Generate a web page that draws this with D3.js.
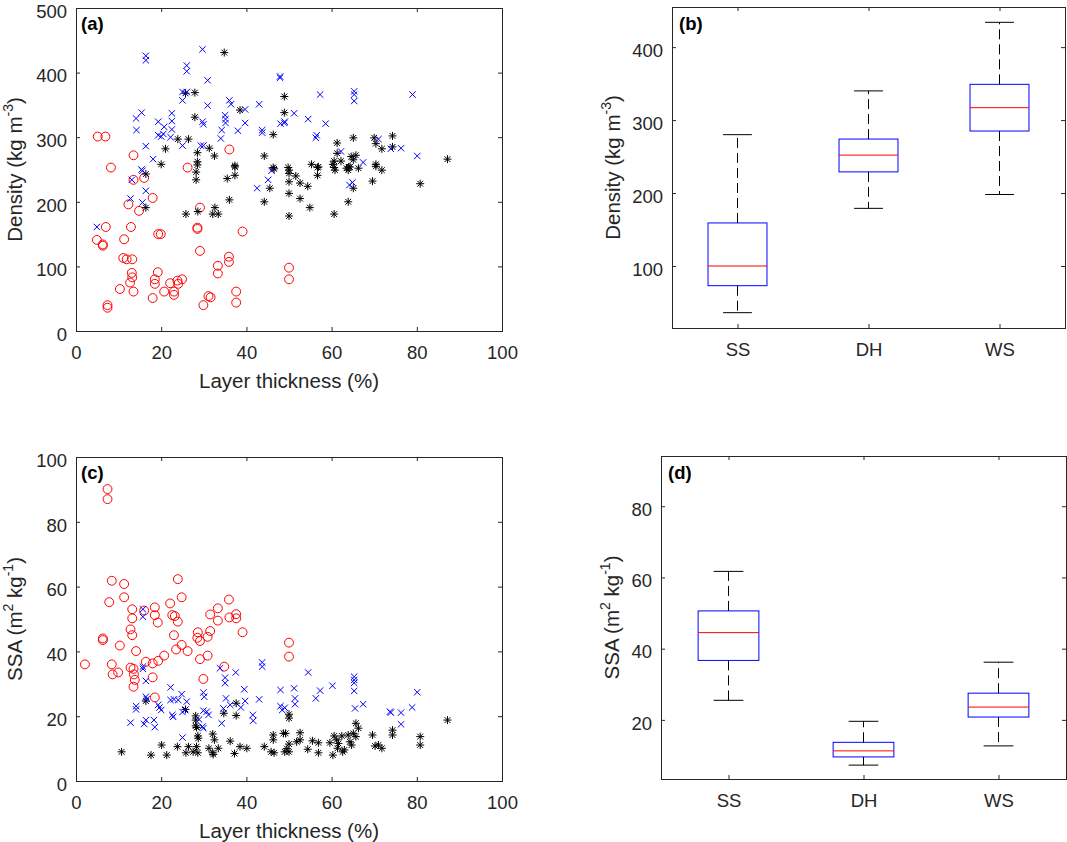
<!DOCTYPE html>
<html>
<head>
<meta charset="utf-8">
<script src="https://d3js.org/d3.v7.min.js"></script>
<style>
  body { margin: 0; background: #fff; }
  svg { font-family: Arial, "Liberation Sans", Helvetica, sans-serif; }
  .tick text { fill: #262626; font-size: 18.5px; }
  .tick line { stroke: #262626; }
  .domain { display: none; }
  .frame { fill: none; stroke: #262626; stroke-width: 1; }
  .axis-label { fill: #262626; font-size: 20.5px; }
  .panel-label { fill: #000; font-size: 18.5px; font-weight: bold; }
</style>
</head>
<body>
<div id="chart"></div>
<script>
// Layer thickness (%) vs density / SSA, per snow type
// SS = red circles, DH = black asterisks, WS = blue crosses

const densitySS = [
  [5.1,301],[6.9,301],[13.5,272],[36,281],[8.2,253],[26.2,253],[13.5,234],[16,237],[18,206],[12.3,196],
  [14.8,186],[7,161],[12.9,161],[4.9,141],[6.3,134],[6.3,132],[11.3,142],[19.3,150],[19.9,150],[28.5,160],
  [28.5,158],[29.1,191],[39.1,154],[29.1,124],[11.1,113],[11.9,111],[13.2,111],[35.9,115],[35.9,107],[33.3,101],
  [33.3,89],[13.1,90],[13.2,83],[12.7,75],[10.3,65],[13.5,61],[19.2,91],[18.5,80],[18.5,73],[18,51],
  [20.7,61],[22.1,74],[23,61],[23,56],[23.8,78],[24,73],[24.9,80],[31.1,54],[31.6,52],[29.9,40],
  [37.6,61],[37.6,44],[7.4,40],[7.4,36],[50,98],[50,80]
];
const densityDH = [
  [34.8,431],[25.7,368],[27.9,369],[48.9,363],[48.9,338],[38.5,342],[27.9,331],[23.9,297],[26.4,297],[46.3,304],
  [21,282],[28.5,276],[28.5,262],[28.5,257],[31.3,283],[32.5,271],[44.2,271],[20,258],[37.3,256],[46.3,253],
  [49.8,253],[61.3,291],[65.1,299],[70,299],[70.4,290],[71.8,282],[74.3,302],[74.3,285],[87.2,266],[61.3,275],
  [60.6,263],[62.2,263],[64.6,270],[65.7,272],[65.1,265],[55.3,258],[56.9,254],[60.3,258],[60.6,253],[64,254],
  [70.4,258],[50,249],[50,244],[50,231],[50,213],[50,178],[51.6,240],[52.6,229],[54.4,224],[52.6,205],
  [54.9,191],[56.7,253],[56.7,241],[60.8,249],[60.6,181],[63.5,252],[63.9,249],[64.3,254],[66.3,252],[65.1,221],
  [63.9,200],[69.6,232],[71.8,249],[70.4,255],[80.8,228],[16.4,243],[16.4,191],[25.8,181],[28.6,185],[32.1,181],
  [33.4,181],[32.6,191],[36,203],[44.2,200],[45.5,221],[46.5,251],[37.3,254],[37.3,241],[35.5,236],[28.2,246],
  [28.2,234]
];
const densityWS = [
  [16.4,426],[16.4,419],[29.7,436],[26,411],[26,402],[30.9,388],[47.9,394],[47.9,392],[25,370],[26,370],
  [25,357],[30.9,349],[36,357],[36.4,351],[39.7,343],[43,351],[15.4,338],[14.1,329],[14.2,311],[16.4,286],
  [19.3,324],[22.5,337],[22.5,325],[22.5,312],[20.7,316],[19.3,303],[20,301],[20.5,305],[22.2,300],[25,287],
  [29.7,324],[29.9,320],[29.3,287],[29.9,287],[35,334],[35.1,328],[35.1,322],[34.2,311],[34,298],[38,310],
  [39.7,322],[43.7,311],[43.7,307],[48,321],[48.9,322],[18.1,266],[15.4,250],[57.3,366],[65.3,371],[65.3,366],
  [65.3,356],[79,366],[51.2,337],[49,324],[54.5,328],[58.6,321],[56.5,303],[56.3,299],[71,297],[73.9,282],
  [76.3,283],[80.1,271],[62.2,278],[67.4,261],[15.6,248],[13.1,234],[16.4,217],[12.8,205],[15.6,199],[4.9,161],
  [64.9,230],[64.2,226],[42.5,221],[45.1,234],[45.9,248]
];

const ssaSS = [
  [7.4,90.1],[7.4,87],[8.4,61.8],[11.3,60.8],[23.9,62.3],[11.3,56.7],[24.8,56.7],[35.9,56],[7.8,55.2],[18.5,53.6],
  [22.1,54.8],[33.3,53.3],[13.2,53],[13.2,50.2],[16,52.6],[18.5,51.2],[22.6,51.2],[23.2,50.9],[23.9,49.2],[19.2,48.9],
  [31.5,51.4],[33.3,49.5],[36,50.5],[37.6,51.5],[37.6,50.2],[39.1,45.9],[12.8,46.8],[13.2,45],[6.3,44],[6.3,43.5],
  [10.3,41.8],[14.1,40.1],[23,45],[23.5,40.6],[24.8,42],[26.2,40.1],[28.6,45.9],[28.5,44.2],[29.1,43.2],[30.9,44.5],
  [31.5,46.3],[20.7,38.7],[19.3,37.1],[18,36.3],[16.4,36.8],[29.1,37.6],[30.9,38.7],[2.1,36],[8.4,36],[8.6,32.9],
  [9.9,33.5],[12.8,35],[13.5,34.6],[13.6,32.9],[13.8,31.2],[13.5,29.1],[18,32],[29.9,31.5],[34.8,35.3],[18.5,25.8],
  [50,42.7],[50,38.4]
];
const ssaDH = [
  [16.4,24.7],[25.7,22.1],[37.6,24],[37.6,20.2],[34.7,20.9],[28.1,20.1],[28.1,18.8],[28.1,17],[28.3,16.5],[28.6,13.9],
  [28.7,13.2],[32.1,14.5],[32.5,12.7],[33.4,10.1],[36.2,12.3],[10.7,9],[17.6,8],[21.3,8],[20.1,11.1],[23.8,10.6],
  [26.4,10.6],[28.3,10.6],[25.8,8.7],[27.5,9],[28.6,8.7],[31.2,10.1],[32.1,8.7],[32.2,8.2],[37.2,8.5],[38.5,10.6],
  [40.1,10.1],[44.2,10.6],[46.3,14.2],[46.3,12.7],[45.8,9],[46.5,8.7],[48.7,14.7],[49.2,14.7],[49,9],[49.5,10],
  [87.2,18.8],[50,20.6],[50,19.4],[50,11.4],[50,9],[52.6,14.9],[52.6,12.7],[51.8,12.1],[54.4,9.8],[55.5,12.4],
  [56.9,11.8],[56.9,8.7],[59.6,11.8],[60.3,8],[60.6,13.9],[61.2,12.7],[61.6,11.6],[61.4,10.1],[62.4,13.9],[63,9.6],
  [62.6,9],[63.9,14.2],[64.3,12.1],[64.7,11.1],[65.1,14.7],[65.7,13.7],[66.3,16.3],[65.7,17.8],[69.6,14.2],[70.2,10.8],
  [71,11.1],[71.8,10.1],[74.3,15.7],[74.3,14.2],[80.8,13.7],[80.8,11.1]
];
const ssaWS = [
  [15.7,53],[15.7,50.7],[15.7,35.3],[15.7,34.6],[16.4,30.9],[33.8,34.8],[37.5,33.5],[35,31.9],[35,30.2],[43.7,36.6],
  [43.7,35.3],[39.5,28.3],[48,28.1],[43,25.2],[16.4,26],[16.6,25.3],[22.2,28.9],[22.2,25],[23,25.2],[24.8,26.8],
  [24,25],[26,24.5],[29.9,27.3],[30.1,26],[35.2,25.5],[36.2,23.5],[39.7,24.7],[38.7,22.7],[14.1,23.1],[14.1,22.1],
  [19.3,23.5],[19.6,22.7],[20,21.9],[22.6,20.4],[22.8,19.8],[25,21.3],[25.6,21.9],[29.9,21.7],[30.7,21.4],[31.1,20.4],
  [34.6,22.4],[34.2,17.8],[28.9,19],[16.4,18.8],[16,17.6],[18.3,18.8],[18.5,16.6],[12.8,18],[29.7,16.8],[29.9,16.3],
  [25,13.4],[41.5,20.4],[41.6,18.6],[48,23.1],[48.4,21.9],[49,22.6],[54.5,33.5],[51.2,28.6],[51.4,25.5],[51.4,23.7],
  [57.3,27.9],[56.3,25.5],[60.2,29.4],[65.3,32.2],[65.3,31.2],[65.3,30.3],[65.3,27.8],[65.5,22.4],[67.4,23.7],[73.7,21.4],
  [73.9,21.1],[76.3,21.1],[76.3,17.5],[78.9,22.7],[80.1,27.4]
];

// box plot statistics (whisker low, q1, median, q3, whisker high)
const boxCategories = ["SS", "DH", "WS"];
const densityLow    = [36, 179, 198];
const densityQ1     = [73, 229, 285];
const densityMedian = [100, 252, 317];
const densityQ3     = [159, 274, 349];
const densityHigh   = [280, 340, 434];
const ssaLow    = [25.5, 7.3, 12.7];
const ssaQ1     = [36.7, 9.6, 20.8];
const ssaMedian = [44.5, 11.3, 23.6];
const ssaQ3     = [50.6, 13.7, 27.5];
const ssaHigh   = [61.7, 19.6, 36.2];

const thicknessTicks = [0, 20, 40, 60, 80, 100];
const densityTicks = [0, 100, 200, 300, 400, 500];
const ssaTicks = [0, 20, 40, 60, 80, 100];
const densityBoxTicks = [100, 200, 300, 400];
const ssaBoxTicks = [20, 40, 60, 80];

const svg = d3.select("#chart").append("svg")
  .attr("width", 1067)
  .attr("height", 842);

// axes with inward ticks on all four sides, like MATLAB's box on
function drawAxes(g, x, y, w, h, xTicks, yTicks, xFormat) {
  const tl = 4;
  g.append("g").attr("transform", `translate(0,${h})`)
    .call(d3.axisBottom(x).tickValues(xTicks).tickFormat(xFormat).tickSize(-tl).tickSizeOuter(0).tickPadding(15));
  g.append("g")
    .call(d3.axisTop(x).tickValues(xTicks).tickFormat("").tickSize(-tl).tickSizeOuter(0));
  g.append("g")
    .call(d3.axisLeft(y).tickValues(yTicks).tickSize(-tl).tickSizeOuter(0).tickPadding(9))
    .selectAll(".tick text").attr("dy", "0.5em");   // MATLAB sits these a little low
  g.append("g").attr("transform", `translate(${w},0)`)
    .call(d3.axisRight(y).tickValues(yTicks).tickFormat("").tickSize(-tl).tickSizeOuter(0));
  // drop the empty label nodes of the mirrored axes
  g.selectAll(".tick text").filter(function() { return this.textContent === ""; }).remove();
  g.append("rect").attr("class", "frame")
    .attr("x", 0.5).attr("y", 0.5).attr("width", w).attr("height", h);
}

// parts: plain strings, or {up: "..."} for superscripts
function yLabel(g, x, y, parts) {
  const t = g.append("text").attr("class", "axis-label")
    .attr("text-anchor", "middle")
    .attr("transform", `translate(${x},${y}) rotate(-90)`);
  let back = 0;
  parts.forEach(p => {
    if (typeof p === "string") {
      t.append("tspan").attr("dy", back || null).text(p);
      back = 0;
    } else {
      t.append("tspan").attr("dy", -9 + back).attr("font-size", "14px").text(p.up);
      back = 9;
    }
  });
}

function panelLabel(x, y, s) {
  svg.append("text").attr("class", "panel-label").attr("x", x).attr("y", y).text(s);
}

function scatterPanel(left, top, w, h, yDomain, yTicks, groups, labelParts, tag) {
  const g = svg.append("g").attr("transform", `translate(${left},${top})`);
  const x = d3.scaleLinear().domain([0, 100]).range([0, w]);
  const y = d3.scaleLinear().domain(yDomain).range([h, 0]);

  groups.forEach(gr => {
    g.append("g").selectAll("path")
      .data(gr.data)
      .enter().append("path")
      .attr("transform", d => `translate(${x(d[0])},${y(d[1])})`)
      .attr("d", gr.shape)
      .attr("fill", "none")
      .attr("stroke", gr.color)
      .attr("stroke-width", 1);
  });

  drawAxes(g, x, y, w, h, thicknessTicks, yTicks, d3.format("d"));
  g.append("text").attr("class", "axis-label")
    .attr("x", w / 2).attr("y", h + 57)
    .attr("text-anchor", "middle")
    .text("Layer thickness (%)");
  yLabel(g, -54, h / 2, labelParts);
  panelLabel(left + 5, top + 22, tag);
}

function boxPanel(left, top, w, h, yDomain, yTicks, stats, labelX, labelParts, tag) {
  const g = svg.append("g").attr("transform", `translate(${left},${top})`);
  const x = d3.scaleLinear().domain([0.5, 3.5]).range([0, w]);
  const y = d3.scaleLinear().domain(yDomain).range([h, 0]);
  const unit = x(2) - x(1);
  const bw = unit * 0.225, cw = unit * 0.11;

  boxCategories.forEach((c, i) => {
    const cx = x(i + 1);
    // whiskers
    g.append("line").attr("x1", cx).attr("x2", cx)
      .attr("y1", y(stats.q3[i])).attr("y2", y(stats.high[i]))
      .attr("stroke", "#000").attr("stroke-dasharray", "10,5");
    g.append("line").attr("x1", cx).attr("x2", cx)
      .attr("y1", y(stats.q1[i])).attr("y2", y(stats.low[i]))
      .attr("stroke", "#000").attr("stroke-dasharray", "10,5");
    // caps
    [stats.high[i], stats.low[i]].forEach(v => {
      g.append("line").attr("x1", cx - cw).attr("x2", cx + cw)
        .attr("y1", y(v)).attr("y2", y(v)).attr("stroke", "#000");
    });
    // box
    g.append("rect")
      .attr("x", cx - bw).attr("width", 2 * bw)
      .attr("y", y(stats.q3[i])).attr("height", y(stats.q1[i]) - y(stats.q3[i]))
      .attr("fill", "none").attr("stroke", "#0000ff");
    // median
    g.append("line").attr("x1", cx - bw).attr("x2", cx + bw)
      .attr("y1", y(stats.median[i])).attr("y2", y(stats.median[i]))
      .attr("stroke", "#ff0000");
  });

  drawAxes(g, x, y, w, h, [1, 2, 3], yTicks, (d) => boxCategories[d - 1]);
  yLabel(g, labelX, h / 2, labelParts);
  panelLabel(left + 7, top + 23, tag);
}

const circle = d3.symbol().type(d3.symbolCircle).size(62)();
const cross = "M-3.2,-3.2L3.2,3.2M-3.2,3.2L3.2,-3.2";
const star = "M-4,0H4M0,-4V4M-2.9,-2.9L2.9,2.9M-2.9,2.9L2.9,-2.9";

scatterPanel(76, 8, 426, 323, [0, 500], densityTicks, [
  { data: densitySS, color: "#ff0000", shape: circle },
  { data: densityDH, color: "#000000", shape: star },
  { data: densityWS, color: "#0000ff", shape: cross }
], ["Density (kg m", { up: "-3" }, ")"], "(a)");

scatterPanel(76, 457, 426, 324, [0, 100], ssaTicks, [
  { data: ssaSS, color: "#ff0000", shape: circle },
  { data: ssaDH, color: "#000000", shape: star },
  { data: ssaWS, color: "#0000ff", shape: cross }
], ["SSA (m", { up: "2" }, " kg", { up: "-1" }, ")"], "(c)");

boxPanel(672, 7, 393, 321, [15, 455], densityBoxTicks,
  { low: densityLow, q1: densityQ1, median: densityMedian, q3: densityQ3, high: densityHigh },
  -52, ["Density (kg m", { up: "-3" }, ")"], "(b)");

boxPanel(661, 456, 405, 323, [3.4, 94.1], ssaBoxTicks,
  { low: ssaLow, q1: ssaQ1, median: ssaMedian, q3: ssaQ3, high: ssaHigh },
  -42, ["SSA (m", { up: "2" }, " kg", { up: "-1" }, ")"], "(d)");
</script>
</body>
</html>
